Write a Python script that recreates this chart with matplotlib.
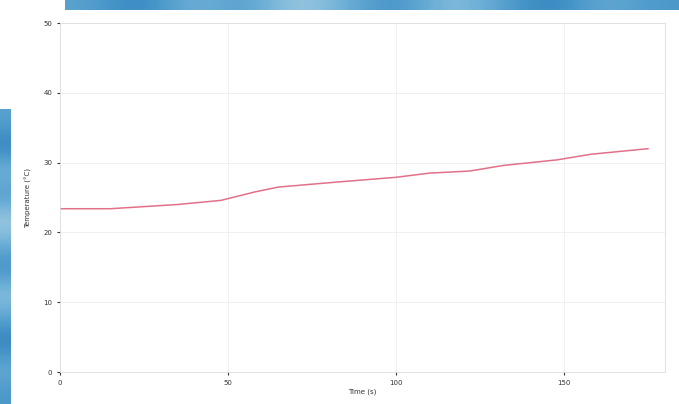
import numpy as np
import matplotlib
matplotlib.use('Agg')
import matplotlib.pyplot as plt

# readings
time_s = [0, 15, 35, 48, 58, 65, 82, 100, 110, 122, 132, 148, 158, 175]
temp_c = [23.4, 23.4, 24.0, 24.6, 25.8, 26.5, 27.2, 27.9, 28.5, 28.8, 29.6, 30.4, 31.2, 32.0]
x_ticks = [0, 50, 100, 150]
y_ticks = [0, 10, 20, 30, 40, 50]

fig = plt.figure(figsize=(6.79, 4.04), dpi=100)
fig.patch.set_facecolor('white')

# blue photo-like strips behind the chart (top band and left edge)
grad = np.array([0.55, 0.7, 0.45, 0.6, 0.35, 0.5, 0.65, 0.4, 0.55, 0.7, 0.5, 0.6]).reshape(1, -1)
top = fig.add_axes([0.096, 0.975, 0.904, 0.025])
top.imshow(grad, aspect='auto', cmap='Blues', vmin=0.0, vmax=1.0, interpolation='bicubic')
top.axis('off')
left = fig.add_axes([0.0, 0.0, 0.015, 0.73])
left.imshow(grad.T, aspect='auto', cmap='Blues', vmin=0.0, vmax=1.0, interpolation='bicubic')
left.axis('off')

ax = fig.add_axes([0.088, 0.079, 0.891, 0.864])
ax.plot(time_s, temp_c, color='#e27088', linewidth=1.1)

ax.set_xlim(0, 180)
ax.set_ylim(0, 50)
ax.set_xticks(x_ticks)
ax.set_yticks(y_ticks)
ax.tick_params(labelsize=5, length=2, colors='#333333')
ax.grid(True, color='#eeeeee', linewidth=0.6)
for s in ax.spines.values():
    s.set_color('#dddddd')
    s.set_linewidth(0.6)

ax.set_xlabel('Time (s)', fontsize=5, color='#333333', labelpad=2)
ax.set_ylabel('Temperature (°C)', fontsize=5, color='#333333', labelpad=8)

fig.savefig('out.png', dpi=100)
